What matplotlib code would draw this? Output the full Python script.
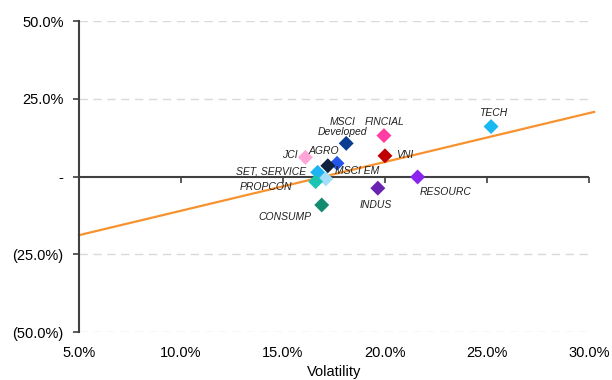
import matplotlib.pyplot as plt
from matplotlib.ticker import FuncFormatter

# Sector / index risk-return points (volatility %, return %)
names = ["MSCI EM", "SET", "SERVICE", "PROPCON", "AGRO", "MSCI Developed",
         "FINCIAL", "VNI", "JCI", "CONSUMP", "INDUS", "RESOURC", "TECH"]
volatility = [17.65, 16.7, 17.1, 16.6, 17.2, 18.1,
              19.95, 20.0, 16.1, 16.9, 19.65, 21.6, 25.2]
returns = [4.3, 1.4, -0.7, -1.6, 3.5, 10.7,
           13.2, 6.7, 6.2, -9.1, -3.7, -0.1, 16.1]
labels = ["MSCI EM", "SET, SERVICE", "", "PROPCON", "AGRO", "MSCI\nDeveloped",
          "FINCIAL", "VNI", "JCI", "CONSUMP", "INDUS", "RESOURC", "TECH"]

# fitted trend line end points
trend_x = [5.0, 30.25]
trend_y = [-18.8, 20.8]

x_ticks = [5, 10, 15, 20, 25, 30]
y_ticks = [-50, -25, 0, 25, 50]

colors = ["#2356E8", "#1CB4F4", "#A2DEFA", "#1CC4B4", "#10223F", "#0A3C91",
          "#FF3DA5", "#C00000", "#FFA6D9", "#138A72", "#6A22B0", "#8A22F0", "#1AB8F0"]

# label placement: (dx, dy) in pixels from the marker, horizontal alignment
label_pos = {
    "MSCI EM": (-2, -8, "left"),
    "SET": (-12, 1, "right"),
    "PROPCON": (-23, -5, "right"),
    "AGRO": (-4, 15, "center"),
    "MSCI Developed": (-4, 16, "center"),
    "FINCIAL": (1, 14, "center"),
    "VNI": (11, 1, "left"),
    "JCI": (-16, 2, "center"),
    "CONSUMP": (-10, -12, "right"),
    "INDUS": (-2, -17, "center"),
    "RESOURC": (2, -15, "left"),
    "TECH": (2, 14, "center"),
}

plt.rcParams["font.family"] = ["Liberation Sans", "DejaVu Sans"]

fig = plt.figure(figsize=(6.12, 3.8), dpi=100)
ax = fig.add_axes([0.129, 0.1255, 0.8334, 0.8192])

ax.set_xlim(5, 30)
ax.set_ylim(-50, 50)

for y in [-50, -25, 25, 50]:
    ax.axhline(y, color="#D9D9D9", lw=1, ls=(0, (6, 4)), zorder=0)
ax.axhline(0, color="#404040", lw=1.5, zorder=1)
# tick marks along the zero line
ax.plot(x_ticks[1:], [0] * (len(x_ticks) - 1), ls="none", marker=3,
        ms=4, mew=1.2, color="#404040", zorder=1, clip_on=False)

ax.plot(trend_x, trend_y, color="#F7922E", lw=1.6, zorder=2, clip_on=False)

ax.scatter(volatility, returns, marker="D", s=58, c=colors, linewidths=0, zorder=3)

for name, x, y, text in zip(names, volatility, returns, labels):
    if not text:
        continue
    dx, dy, ha = label_pos[name]
    ax.annotate(text, (x, y), xytext=(dx, dy), textcoords="offset pixels",
                ha=ha, va="center", fontsize=7.5, fontstyle="italic",
                color="#222222", linespacing=1.0, zorder=4)

for side in ["top", "right", "bottom"]:
    ax.spines[side].set_visible(False)
ax.spines["left"].set_color("#404040")
ax.spines["left"].set_linewidth(1.5)

ax.set_xticks(x_ticks)
ax.set_yticks(y_ticks)
ax.xaxis.set_major_formatter(FuncFormatter(lambda v, p: f"{v:.1f}%"))


def fmt_pct(v, p):
    if v == 0:
        return "-"
    if v < 0:
        return f"({-v:.1f}%)"
    return f"{v:.1f}%"


ax.yaxis.set_major_formatter(FuncFormatter(fmt_pct))
ax.tick_params(axis="x", length=0, pad=10, labelsize=10.5)
ax.tick_params(axis="y", length=4, width=1.2, color="#404040", pad=7, labelsize=10.5)
ax.set_xlabel("Volatility", fontsize=10.5, labelpad=3.5)

fig.savefig("out.png", dpi=100)
